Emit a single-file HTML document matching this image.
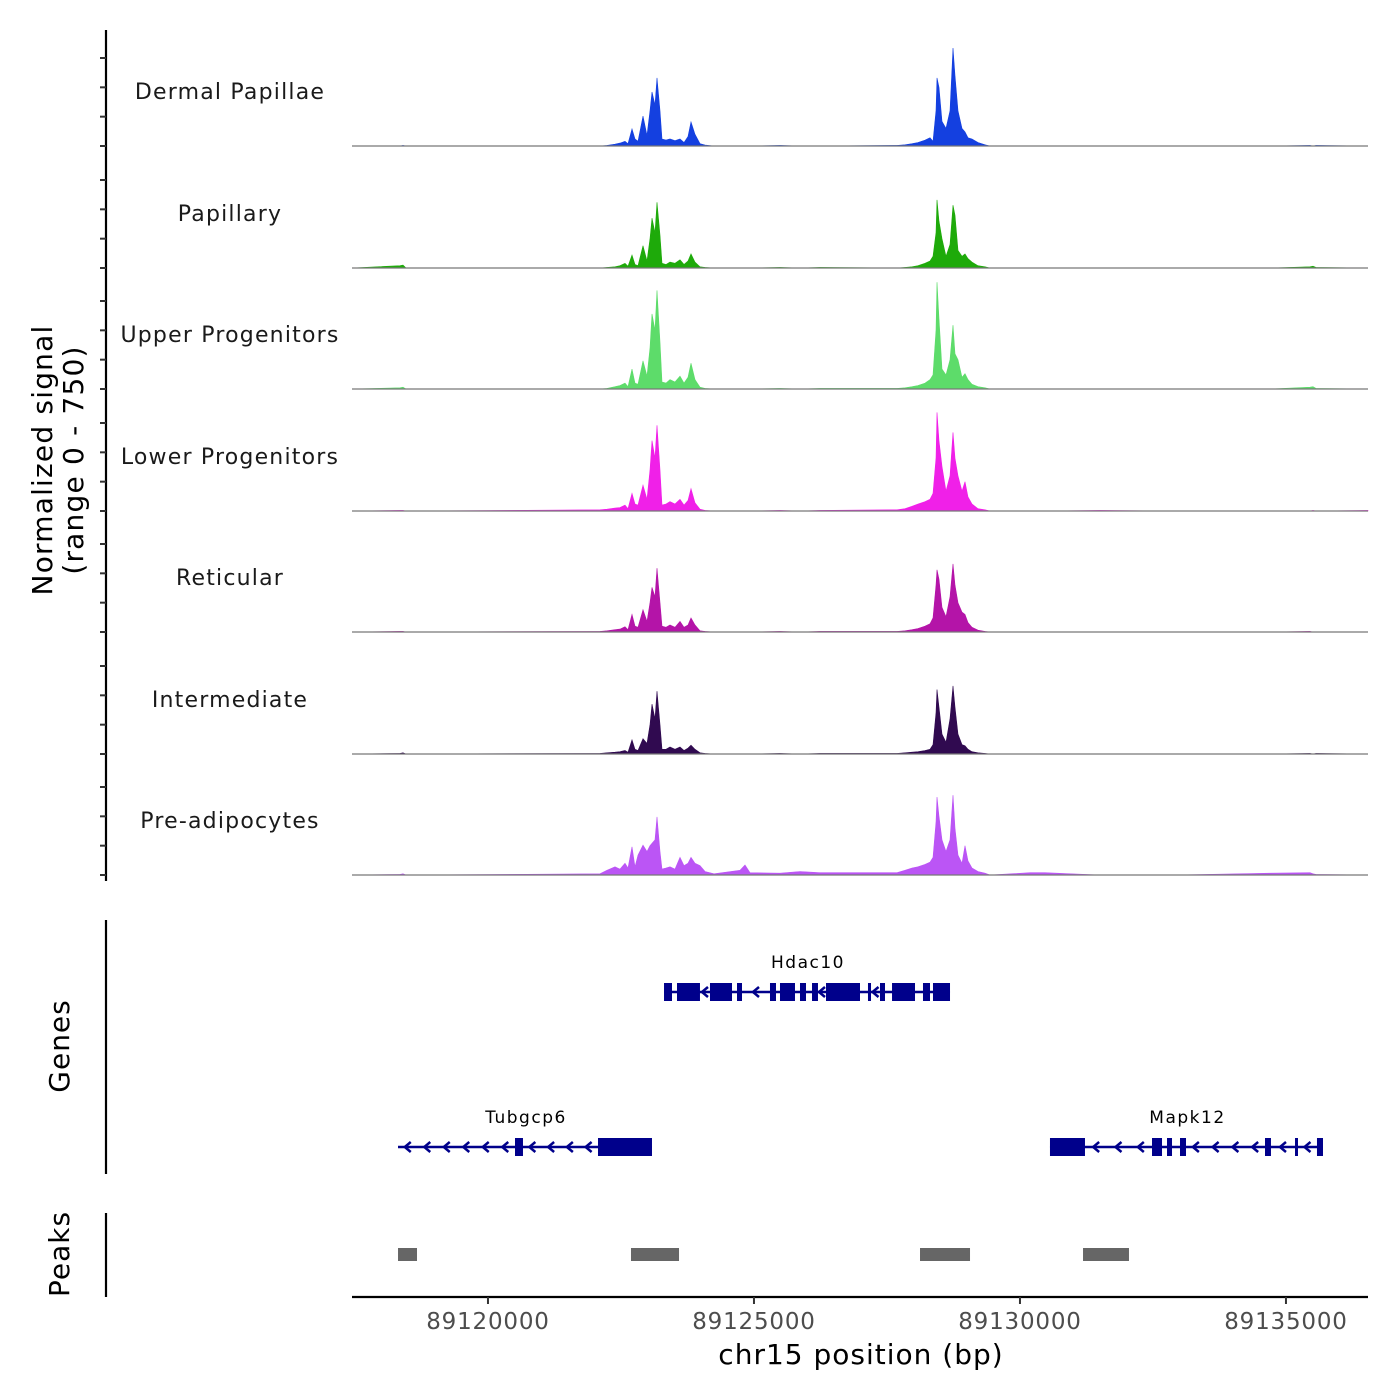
<!DOCTYPE html>
<html><head><meta charset="utf-8"><style>
html,body{margin:0;padding:0;background:#fff;}
svg{display:block;font-family:"DejaVu Sans","Liberation Sans",sans-serif;}
</style></head><body>
<svg id="chart" width="1400" height="1400" viewBox="0 0 1400 1400"></svg>
<script>
const NS="http://www.w3.org/2000/svg";
const positions=[89117444,89118346,89118403,89118459,89122106,89122237,89122388,89122482,89122576,89122632,89122707,89122764,89122820,89122914,89122989,89123046,89123083,89123140,89123177,89123233,89123271,89123346,89123421,89123515,89123609,89123685,89123760,89123816,89123891,89123985,89124079,89124249,89124737,89124831,89124925,89125489,89125865,89126241,89127688,89127839,89127970,89128083,89128215,89128309,89128365,89128421,89128440,89128478,89128534,89128609,89128685,89128741,89128779,89128835,89128910,89128967,89129023,89129098,89129211,89129343,89129437,89130188,89130470,89131504,89132914,89134700,89135451,89135508,89135565,89136542];
const trackNames=["Dermal Papillae","Papillary","Upper Progenitors","Lower Progenitors","Reticular","Intermediate","Pre-adipocytes"];
const trackColors=["#1440e0","#1eaa0a","#5ddc6a","#f020e8","#b414a8","#300a50","#bb55f5"];
const sigDermal=[0,0,5,0,0,5,15,25,40,20,145,60,40,255,90,300,460,350,580,300,60,50,60,45,60,30,80,205,100,20,8,0,0,0,0,5,0,0,5,10,20,30,50,70,40,300,580,500,210,150,300,835,600,300,150,120,70,60,30,10,0,0,0,0,0,0,5,0,5,0];
const sigPapillary=[0,20,25,0,0,5,10,20,40,15,110,30,20,190,60,250,425,300,560,280,40,30,50,40,70,30,60,120,50,10,5,0,0,0,0,5,0,5,0,5,10,20,40,60,100,300,580,400,250,100,200,535,450,150,100,120,80,50,20,10,0,0,0,0,0,0,10,15,5,0];
const sigUpper=[0,10,15,0,0,5,20,30,50,20,170,50,40,240,110,350,640,500,840,400,60,50,80,60,110,50,100,220,80,15,5,0,0,0,0,5,0,5,5,10,20,30,50,80,120,500,910,600,170,120,250,545,300,250,100,130,80,40,20,10,0,0,0,0,0,0,15,20,5,0];
const sigLower=[0,5,5,0,10,15,25,30,50,20,150,60,50,220,100,350,600,450,730,350,50,60,80,60,100,50,90,190,70,15,5,0,0,0,0,5,0,5,10,20,40,60,80,100,150,450,840,600,380,170,300,670,450,300,170,250,120,60,20,10,0,0,0,5,0,0,0,5,0,5];
const sigReticular=[0,5,5,0,5,10,20,25,45,20,150,50,40,190,90,250,380,300,545,250,50,40,60,40,90,40,60,120,60,10,5,0,0,0,0,5,0,5,5,10,20,30,50,70,120,400,530,450,210,130,300,580,400,250,170,150,80,40,15,5,0,0,0,0,0,0,5,0,0,0];
const sigIntermediate=[0,5,10,0,5,10,15,20,30,15,120,40,30,130,90,250,425,300,535,250,40,40,60,40,60,30,50,75,40,10,5,0,0,0,0,5,0,5,5,10,15,20,30,40,80,350,550,400,170,100,300,580,400,170,80,70,40,20,10,5,0,0,0,0,0,0,5,0,5,0];
const sigPreadip=[0,5,10,0,10,40,70,50,100,60,240,70,170,255,200,250,270,300,495,200,50,60,70,50,150,80,100,150,100,80,30,10,40,85,20,15,30,20,20,40,60,70,90,110,150,450,665,500,300,200,300,680,400,170,100,250,120,60,30,15,0,20,20,0,0,15,20,10,5,0];
const signals=[sigDermal,sigPapillary,sigUpper,sigLower,sigReticular,sigIntermediate,sigPreadip];
const yTicks=[0,250,500,750];
const xTicks=[89120000,89125000,89130000,89135000];
const geneNames=["Hdac10","Tubgcp6","Mapk12"];
const geneStarts=[89123309,89118309,89130564];
const geneEnds=[89128685,89123083,89135696];
const geneRows=[0,1,1];
const geneExons=[
 [[89123309,89123459],[89123553,89123985],[89124173,89124587],[89124681,89124775],[89125301,89125414],[89125489,89125771],[89125865,89125978],[89126091,89126203],[89126354,89126993],[89127143,89127200],[89127369,89127463],[89127595,89128027],[89128177,89128309],[89128365,89128685]],
 [[89120508,89120658],[89122068,89123083]],
 [[89130564,89131222],[89132482,89132670],[89132764,89132858],[89133008,89133121],[89134606,89134718],[89135170,89135226],[89135583,89135696]]
];
const peakStarts=[89118309,89122688,89128121,89131185];
const peakEnds=[89118666,89123591,89129061,89132049];

const X0=352,X1=1368,BP0=89117444,BP1=89136542;
const xs=bp=>X0+(bp-BP0)/(BP1-BP0)*(X1-X0);
const baselines=[146,268,389,511,632,754,875];
const pxPerUnit=88/750;
const svg=document.getElementById('chart');
function el(tag,attrs,parent){const e=document.createElementNS(NS,tag);for(const k in attrs)e.setAttribute(k,attrs[k]);(parent||svg).appendChild(e);return e;}
function txt(s,attrs){const t=el('text',attrs);t.textContent=s;return t;}

let a=el('line',{x1:106,y1:30,x2:106,y2:881,stroke:'#000','stroke-width':2.2});


baselines.forEach((b,i)=>{
  yTicks.forEach(v=>{
    const tk=el('line',{x1:100,x2:106,y1:b-v*pxPerUnit,y2:b-v*pxPerUnit,stroke:'#333','stroke-width':2});
    
    
  });
  const lab=txt(trackNames[i],{x:230,y:b-47,'font-size':22,'letter-spacing':1.2,'text-anchor':'middle',fill:'#1a1a1a'});
  
  
  let d='M'+xs(positions[0])+','+b;
  signals[i].forEach((v,j)=>{d+=' L'+xs(positions[j]).toFixed(1)+','+(b-v*pxPerUnit).toFixed(1);});
  d+=' L'+xs(positions[positions.length-1])+','+b+' Z';
  const p=el('path',{d:d,fill:trackColors[i],stroke:trackColors[i],'stroke-width':0.6});
  
  
  const bl=el('line',{x1:X0,x2:X1,y1:b,y2:b,stroke:'#777','stroke-width':1.2});
  
  
});
const yt=txt('',{transform:'translate(52,460) rotate(-90)','font-size':28,'letter-spacing':1.2,'text-anchor':'middle',fill:'#000'});


const t1=el('tspan',{x:0,dy:0},yt);t1.textContent='Normalized signal';
const t2=el('tspan',{x:0,dy:31},yt);t2.textContent='(range 0 - 750)';

let ga=el('line',{x1:106,y1:920,x2:106,y2:1174,stroke:'#000','stroke-width':2.2});


const gt=txt('Genes',{transform:'translate(69,1046) rotate(-90)','font-size':28,'letter-spacing':1,'text-anchor':'middle',fill:'#000'});


const rowY=[992,1147];
geneNames.forEach((g,i)=>{
  const y=rowY[geneRows[i]];
  const grp=el('g',{});
  
  
  el('line',{x1:xs(geneStarts[i]),x2:xs(geneEnds[i]),y1:y,y2:y,stroke:'#00008b','stroke-width':2.5},grp);
  const ex=geneExons[i];
  let segs=[];let prev=geneStarts[i];
  ex.forEach(e=>{segs.push([prev,e[0]]);prev=e[1];});
  segs.push([prev,geneEnds[i]]);
  segs.forEach(s=>{
    const a0=xs(s[0]),a1=xs(s[1]);
    if(a1-a0<8)return;
    const n=Math.max(1,Math.floor((a1-a0)/18));
    for(let k=0;k<n;k++){
      const cx=a0+(a1-a0)*(k+0.5)/n;
      el('path',{d:`M${cx+3},${y-5} L${cx-3},${y} L${cx+3},${y+5}`,fill:'none',stroke:'#00008b','stroke-width':2.5},grp);
    }
  });
  ex.forEach(e=>{el('rect',{x:xs(e[0]),y:y-9,width:Math.max(2,xs(e[1])-xs(e[0])),height:18,fill:'#00008b'},grp);});
  const gl=txt(g,{x:(xs(geneStarts[i])+xs(geneEnds[i]))/2+1,y:y-24,'font-size':17,'letter-spacing':1.5,'text-anchor':'middle',fill:'#000'});
  
  
});

let pa=el('line',{x1:106,y1:1213,x2:106,y2:1297,stroke:'#000','stroke-width':2.2});


const pt=txt('Peaks',{transform:'translate(69,1254) rotate(-90)','font-size':28,'letter-spacing':1,'text-anchor':'middle',fill:'#000'});


peakStarts.forEach((s,i)=>{
  const r=el('rect',{x:xs(s),y:1248,width:xs(peakEnds[i])-xs(s),height:13,fill:'#666'});
  
  
});

let xa=el('line',{x1:X0,x2:X1,y1:1297,y2:1297,stroke:'#000','stroke-width':2.2});


xTicks.forEach(v=>{
  const tk=el('line',{x1:xs(v),x2:xs(v),y1:1297,y2:1304,stroke:'#333','stroke-width':2});
  
  
  const tl=txt(String(v),{x:xs(v),y:1329,'font-size':23,'letter-spacing':0.8,'text-anchor':'middle',fill:'#4d4d4d'});
  
  
});
const xt=txt('chr15 position (bp)',{x:861,y:1364,'font-size':28,'letter-spacing':1,'text-anchor':'middle',fill:'#000'});


</script>
</body></html>
